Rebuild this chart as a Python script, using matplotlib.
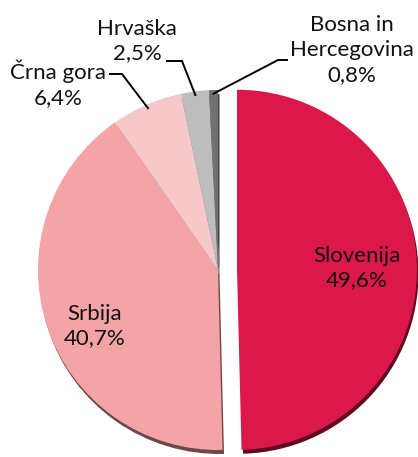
"""Pie chart of shares by country, Slovenian labels."""

import math

import matplotlib.pyplot as plt

plt.rcParams["font.family"] = ["Lato", "DejaVu Sans"]

countries = ["Slovenija", "Srbija", "Črna gora", "Hrvaška", "Bosna in\nHercegovina"]
shares = [49.6, 40.7, 6.4, 2.5, 0.8]

W, H = 418, 457
colors = ["#DC184B", "#F4A3A6", "#F6C8C9", "#BDBDBD", "#727272"]
shadow_colors = ["#5E0A20", "#6E4848", "#8A7070", "#6A6A6A", "#404040"]
explode = [19, 0, 0, 0, 0]
cx, cy, R = 218, H - 270, 180

# text centres (pixel coords from the top) and leader elbows
label_pos = {
    "Slovenija": (357, 268),
    "Srbija": (95, 326),
    "Črna gora": (58, 84),
    "Hrvaška": (137, 41),
    "Bosna in\nHercegovina": (352, 50),
}
leaders = {
    "Črna gora": ((110, 74), (122, 74)),
    "Hrvaška": ((167, 61), (182, 61)),
    "Bosna in\nHercegovina": ((287, 60), (278, 60)),
}

fig = plt.figure(figsize=(W / 100, H / 100), dpi=100)
ax = fig.add_axes([0, 0, 1, 1])

# offset dark copy acts as the drop shadow
ax.pie(shares, radius=R, center=(cx + 1.5, cy - 4), startangle=90, counterclock=False,
       explode=explode, colors=shadow_colors, wedgeprops=dict(linewidth=0))
wedges, _ = ax.pie(shares, radius=R, center=(cx, cy), startangle=90, counterclock=False,
                   explode=explode, colors=colors, wedgeprops=dict(linewidth=0))

for name, value, wedge in zip(countries, shares, wedges):
    text = f"{name}\n{value:.1f}%".replace(".", ",")
    x, y = label_pos[name]
    ax.text(x, H - y, text, ha="center", va="center", fontsize=16, linespacing=1.3,
            color="#111111")
    if name in leaders:
        mid = math.radians((wedge.theta1 + wedge.theta2) / 2)
        rx = wedge.center[0] + 0.98 * R * math.cos(mid)
        ry = wedge.center[1] + 0.98 * R * math.sin(mid)
        (x0, y0), (x1, y1) = leaders[name]
        ax.plot([x0, x1, rx], [H - y0, H - y1, ry], color="black", lw=1.4,
                solid_joinstyle="miter")

ax.set_xlim(0, W)
ax.set_ylim(0, H)
ax.axis("off")

fig.savefig("out.png", dpi=100)
